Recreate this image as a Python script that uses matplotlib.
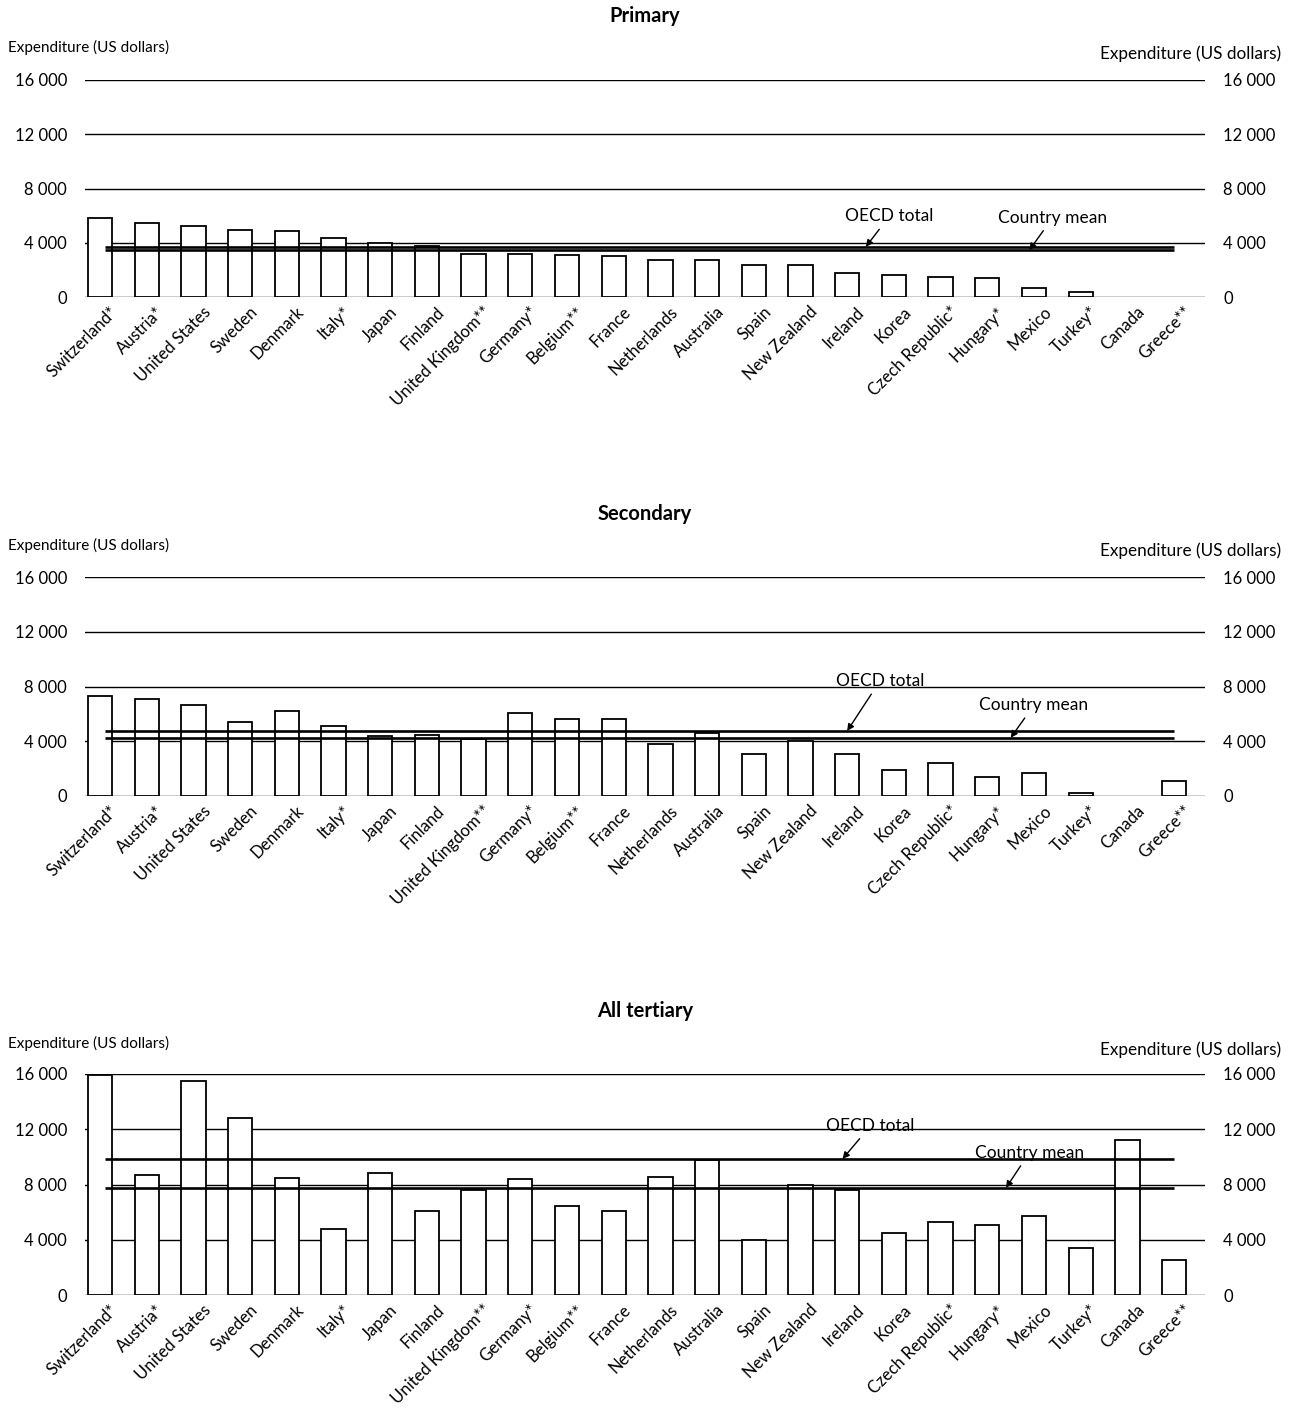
import numpy as np
import matplotlib
matplotlib.use("Agg")
from matplotlib import pyplot as plt
from matplotlib.transforms import ScaledTranslation

plt.rcParams['font.family'] = ['Lato', 'DejaVu Sans']

countries = ["Switzerland*", "Austria*", "United States", "Sweden", "Denmark", "Italy*",
             "Japan", "Finland", "United Kingdom**", "Germany*", "Belgium**", "France",
             "Netherlands", "Australia", "Spain", "New Zealand", "Ireland", "Korea",
             "Czech Republic*", "Hungary*", "Mexico", "Turkey*", "Canada", "Greece**"]

primary = [5800, 5450, 5200, 4950, 4850, 4350, 4000, 3750, 3150, 3150, 3100, 3050,
           2750, 2700, 2350, 2350, 1800, 1600, 1500, 1380, 700, 400, np.nan, np.nan]
secondary = [7300, 7100, 6650, 5400, 6200, 5150, 4400, 4450, 4150, 6050, 5600, 5600,
             3800, 4600, 3050, 4000, 3100, 1900, 2400, 1400, 1700, 250, np.nan, 1100]
tertiary = [15900, 8700, 15500, 12800, 8500, 4800, 8850, 6100, 7600, 8400, 6450, 6050,
            8550, 9800, 4000, 8000, 7600, 4500, 5300, 5100, 5700, 3400, 11200, 2500]

titles = ["Primary", "Secondary", "All tertiary"]
oecd_total = [3700, 4750, 9850]
country_mean = [3450, 4250, 7750]
yticks = [0, 4000, 8000, 12000, 16000]
ytick_labels = ["0", "4 000", "8 000", "12 000", "16 000"]

W, H = 1294, 1419
fig = plt.figure(figsize=(W / 100, H / 100), dpi=100)

# pixel layout of each panel: (y of zero line, y of 16000 line, title y, left label y, right label y)
panels = [(297, 80, 16, 47, 54), (796, 577, 514, 545, 551), (1295, 1074, 1011, 1043, 1050)]
# annotation positions (x in bar units, y in dollars): oecd text, oecd arrow x, mean text, mean arrow x
notes = [((16.9, 5950), 16.4, (20.4, 5850), 19.9),
         ((16.7, 8400), 16.0, (20.0, 6650), 19.5),
         ((16.5, 12250), 15.9, (19.9, 10300), 19.4)]

x = np.arange(len(countries))
left_px, right_px = 85, 1205
spacing = 46.7
data = [primary, secondary, tertiary]
arrow = dict(arrowstyle='-|>', color='black', lw=1.0, shrinkA=2, shrinkB=0, mutation_scale=10)

for k in range(3):
    y0, y16, ty, ly, ry = panels[k]
    ax = fig.add_axes([left_px / W, 1 - y0 / H, (right_px - left_px) / W, (y0 - y16) / H])
    ax.set_xlim(-(100 - left_px) / spacing, (right_px - 100) / spacing)
    ax.set_ylim(0, 16000)
    for v in yticks:
        ax.axhline(v, color='black', lw=1.0, zorder=1)
    ax.bar(x, data[k], width=0.52, color='white', edgecolor='black', lw=1.3, zorder=2)
    ax.hlines([oecd_total[k], country_mean[k]], 0.1, 23.0, color='black', lw=1.9, zorder=3)

    for s in ax.spines.values():
        s.set_visible(False)
    ax.set_yticks(yticks)
    ax.set_yticklabels(ytick_labels, fontsize=12)
    ax.tick_params(axis='y', length=0, pad=13, labelright=True, right=False)
    ax.set_xticks(x)
    ax.set_xticklabels(countries, rotation=45, ha='right', rotation_mode='anchor', fontsize=12)
    ax.tick_params(axis='x', length=0, pad=5)
    shift = ScaledTranslation(9 / 100, 0, fig.dpi_scale_trans)
    for lab in ax.get_xticklabels():
        lab.set_transform(lab.get_transform() + shift)

    (otx, oty), oax, (mtx, mty), max_ = notes[k]
    ax.annotate("OECD total", xy=(oax, oecd_total[k]), xytext=(otx, oty), ha='center', va='center',
                fontsize=12.5, arrowprops=arrow)
    ax.annotate("Country mean", xy=(max_, country_mean[k]), xytext=(mtx, mty), ha='center', va='center',
                fontsize=12.5, arrowprops=arrow)

    fig.text(645 / W, 1 - ty / H, titles[k], ha='center', va='center', fontsize=14.5, fontweight='bold')
    fig.text(8 / W, 1 - ly / H, "Expenditure (US dollars)", ha='left', va='center', fontsize=11)
    fig.text(1281 / W, 1 - ry / H, "Expenditure (US dollars)", ha='right', va='center', fontsize=12.3)

fig.savefig("out.png", dpi=100, facecolor='white')
